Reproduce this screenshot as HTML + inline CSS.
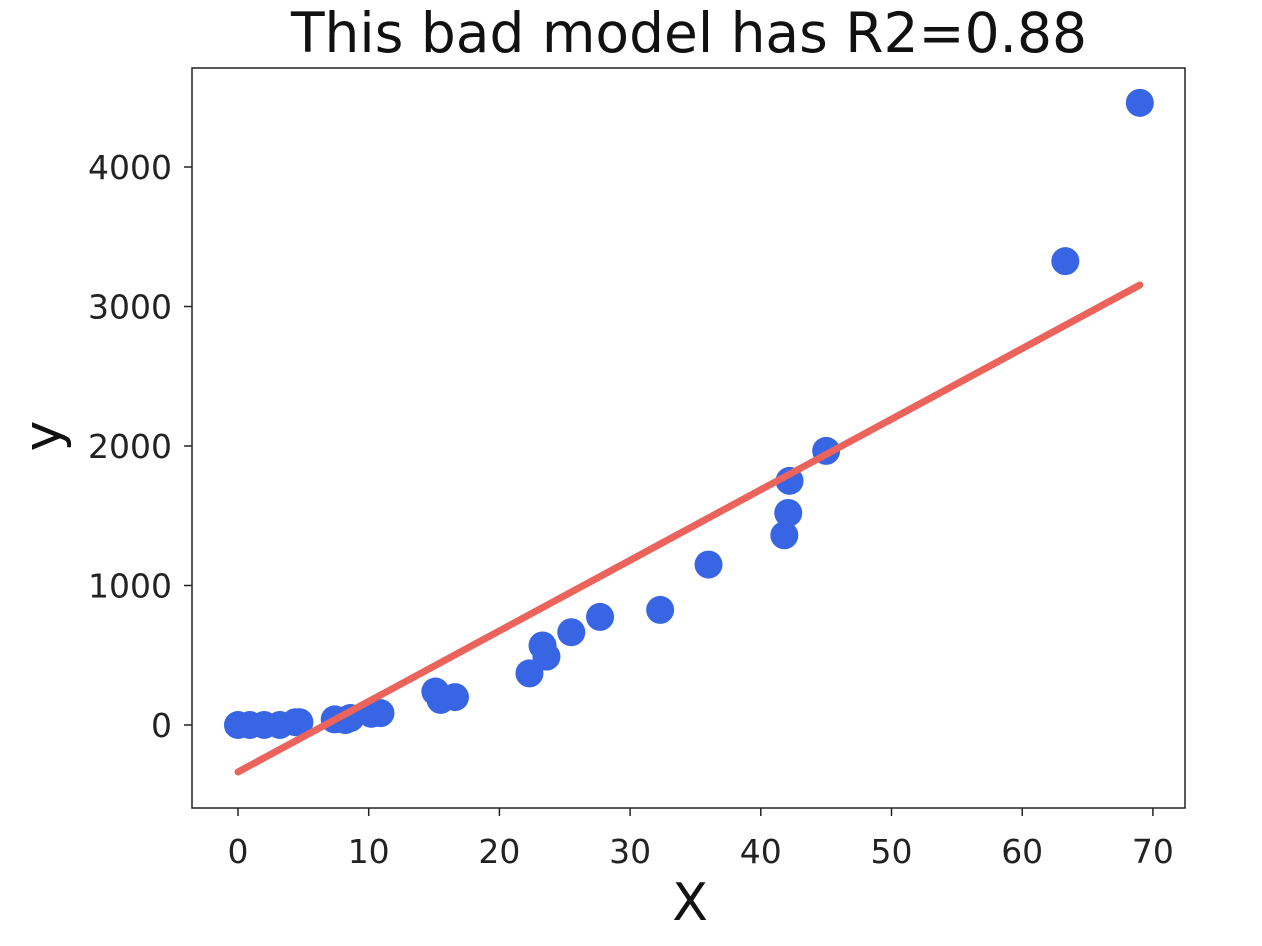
<!DOCTYPE html>
<html><head><meta charset="utf-8"><style>
body{margin:0;background:#fff;}
svg{display:block;font-family:"DejaVu Sans","Liberation Sans",sans-serif;}
</style></head><body>
<svg id="chart" width="1262" height="946"></svg>
<script>
const xs=[0,0.9,2,3.2,4.4,4.7,7.4,8.2,8.6,10.2,10.9,15.1,15.5,16.6,22.3,23.6,23.3,25.5,27.7,32.3,36,41.8,42.1,42.2,45,63.3,69];
const ys=[0,0,0,0,20,20,40,35,50,80,85,240,180,200,370,490,570,665,775,825,1150,1360,1520,1750,1965,3325,4460];
const lineX=[0,69];
const lineY=[-337,3154];
const xTicks=[0,10,20,30,40,50,60,70];
const yTicks=[0,1000,2000,3000,4000];
const NS='http://www.w3.org/2000/svg';
const svg=document.getElementById('chart');
const sx=v=>238+v*13.07;
const sy=v=>725-v*0.1395;
function el(t,a,p){const e=document.createElementNS(NS,t);for(const k in a)e.setAttribute(k,a[k]);(p||svg).appendChild(e);return e;}
const frame=el('rect',{x:192,y:68,width:993,height:740,fill:'none',stroke:'#222','stroke-width':1.5});


xTicks.forEach(t=>{
  const l=el('line',{x1:sx(t),x2:sx(t),y1:808,y2:816,stroke:'#222','stroke-width':1.5});
  
  
  const tx=el('text',{x:sx(t),y:863,'font-size':33,'text-anchor':'middle',fill:'#222'});tx.textContent=t;
  
  
});
yTicks.forEach(t=>{
  const l=el('line',{x1:184,x2:192,y1:sy(t),y2:sy(t),stroke:'#222','stroke-width':1.5});
  
  
  const tx=el('text',{x:172,y:sy(t)+12,'font-size':33,'text-anchor':'end',fill:'#222'});tx.textContent=t;
  
  
});
xs.forEach((x,i)=>{
  const c=el('circle',{cx:sx(x),cy:sy(ys[i]),r:14,fill:'#3765e3'});
  
  
});
const ln=el('line',{x1:sx(lineX[0]),y1:sy(lineY[0]),x2:sx(lineX[1]),y2:sy(lineY[1]),stroke:'#ec635c','stroke-width':7,'stroke-linecap':'round'});


const title=el('text',{x:689,y:52,'font-size':55,'text-anchor':'middle',fill:'#111'});title.textContent='This bad model has R2=0.88';


const xl=el('text',{x:690,y:920,'font-size':52,'text-anchor':'middle',fill:'#111'});xl.textContent='X';


const yl=el('text',{x:0,y:0,'font-size':52,'text-anchor':'middle',fill:'#111',transform:'translate(60,436) rotate(-90)'});yl.textContent='y';


</script>
</body></html>
